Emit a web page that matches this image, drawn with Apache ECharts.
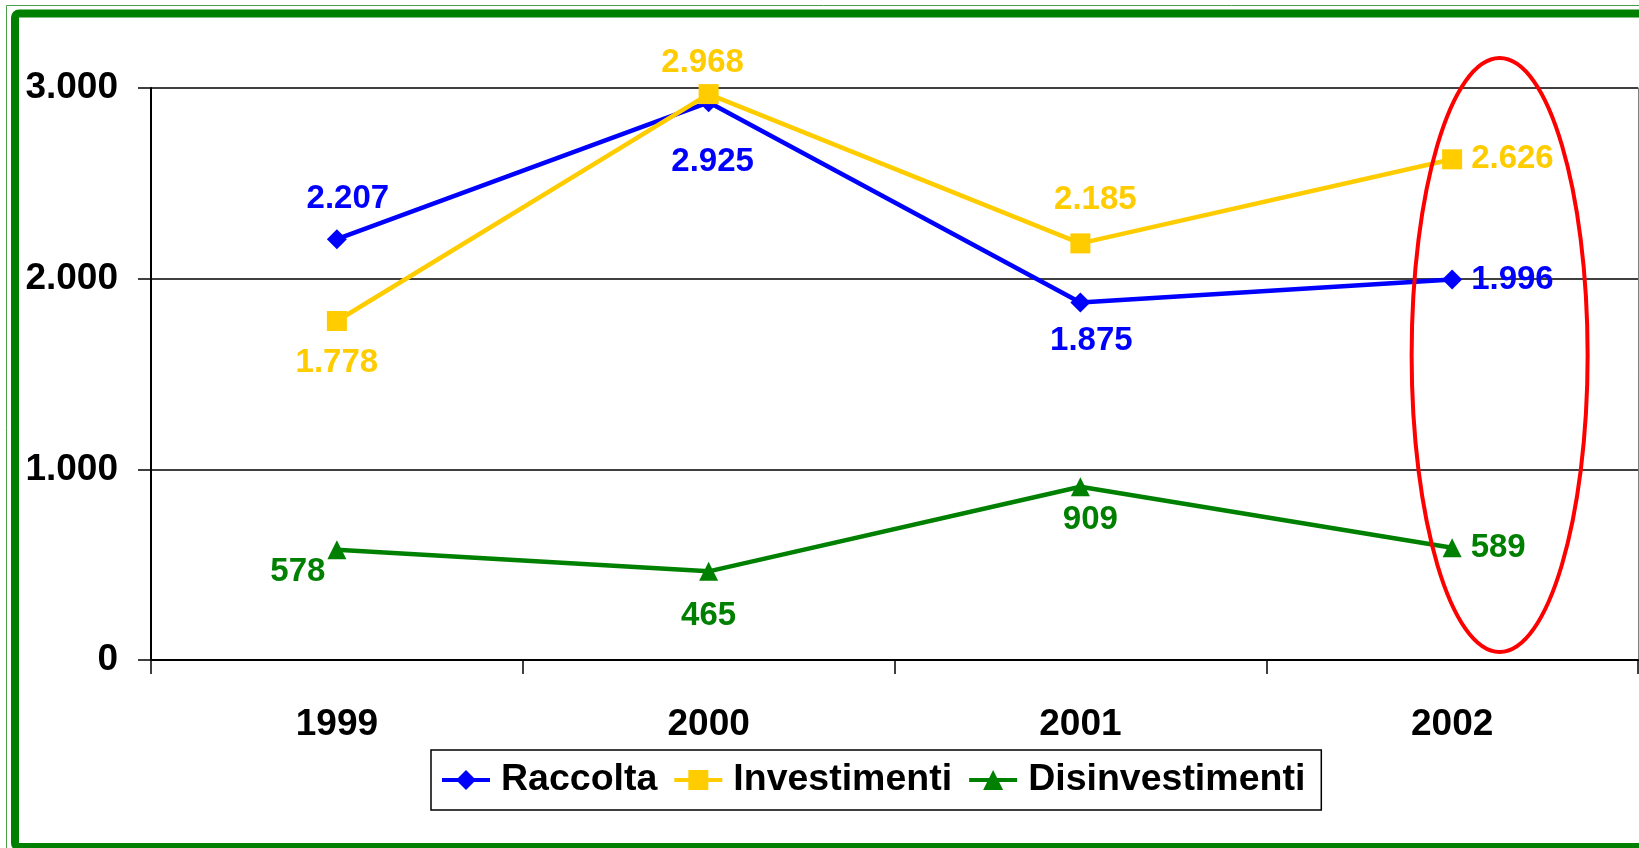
<!DOCTYPE html>
<html><head><meta charset="utf-8">
<script src="https://cdn.jsdelivr.net/npm/echarts@6/dist/echarts.min.js"></script>
<style>html,body{margin:0;padding:0;background:#fff;overflow:hidden;}#c{width:1639px;height:848px;}</style>
</head><body><div id="c"></div>
<script>
// ---- data ----
const categories = ['1999', '2000', '2001', '2002'];
const raccolta = [2207, 2925, 1875, 1996];
const investimenti = [1778, 2968, 2185, 2626];
const disinvestimenti = [578, 465, 909, 589];
const yMin = 0, yMax = 3000, yStep = 1000;
const seriesNames = ['Raccolta', 'Investimenti', 'Disinvestimenti'];

// ---- label placement (style, separate from data) ----
const labelPlace = {
  Raccolta:        [[11, -40], [4, 60], [11, 38], 'right'],
  Investimenti:    [[0, 42], [-6, -31], [15, -43], 'right'],
  Disinvestimenti: [[-39, 22], [0, 45], [10, 33], 'right']
};

const FONT = '"Liberation Sans", Arial, sans-serif';
const fmt = v => String(v).replace(/\B(?=(\d{3})+(?!\d))/g, '.');

function buildData(values, name, color) {
  return values.map((v, i) => {
    const p = labelPlace[name][i];
    const label = p === 'right'
      ? { position: 'right', distance: 9 }
      : { position: 'inside', offset: p };
    label.color = color;
    return { value: v, label };
  });
}

function makeSeries(name, values, color, symbol, size) {
  return {
    name, type: 'line', data: buildData(values, name, color),
    symbol, symbolSize: size, showSymbol: true,
    lineStyle: { color, width: 4.5 },
    itemStyle: { color },
    label: {
      show: true, formatter: p => fmt(p.value),
      fontFamily: FONT, fontWeight: 'bold', fontSize: 33, color,
      textBorderWidth: 0
    },
    emphasis: { disabled: true },
    animation: false
  };
}

const chart = echarts.init(document.getElementById('c'), null, { renderer: 'canvas' });
const option = {
  animation: false,
  backgroundColor: '#fff',
  grid: { left: 151, right: 1, top: 88, bottom: 188, containLabel: false },
  xAxis: {
    type: 'category', data: categories, boundaryGap: true,
    axisLine: { show: true, lineStyle: { color: '#000', width: 2 } },
    axisTick: { show: true, length: 14, alignWithLabel: false, lineStyle: { color: '#000', width: 1.5 } },
    axisLabel: { color: '#000', fontFamily: FONT, fontWeight: 'bold', fontSize: 37, margin: 46 },
    splitLine: { show: false }
  },
  yAxis: [{
    type: 'value', min: yMin, max: yMax, interval: yStep,
    axisLine: { show: true, lineStyle: { color: '#000', width: 2 } },
    axisTick: { show: true, length: 13, lineStyle: { color: '#000', width: 1.5 } },
    axisLabel: { color: '#000', fontFamily: FONT, fontWeight: 'bold', fontSize: 37, margin: 33, formatter: v => fmt(v) },
    splitLine: { show: true, lineStyle: { color: '#000', width: 1.5 } }
  }, {
    type: 'value', min: yMin, max: yMax, interval: yStep, position: 'right',
    axisLine: { show: true, lineStyle: { color: '#808080', width: 1 } },
    axisTick: { show: false }, axisLabel: { show: false }, splitLine: { show: false }
  }],
  legend: {
    data: seriesNames,
    left: 431, top: 750,
    orient: 'horizontal',
    backgroundColor: '#fff',
    borderColor: '#000', borderWidth: 1.5, borderRadius: 0,
    padding: [11, 16, 11, 9],
    itemWidth: 48, itemHeight: 25, itemGap: 15,
    lineStyle: { width: 4 },
    textStyle: { color: '#000', fontFamily: FONT, fontWeight: 'bold', fontSize: 37.5, padding: [0, 0, 0, 6] },
    selectedMode: false
  },
  series: [
    makeSeries(seriesNames[0], raccolta, '#0000FF', 'diamond', 20),
    makeSeries(seriesNames[1], investimenti, '#FFCC00', 'rect', 20),
    makeSeries(seriesNames[2], disinvestimenti, '#008000', 'triangle', 19)
  ]
};
chart.setOption(option);

// ---- decorations: frame and highlight ellipse (anchored to the 2002 category) ----
const pTop = chart.convertToPixel({ gridIndex: 0 }, ['2002', 3157]);
const pBot = chart.convertToPixel({ gridIndex: 0 }, ['2002', 42]);
const cx = pTop[0] + 47.5;
const cy = (pTop[1] + pBot[1]) / 2;
const ry = (pBot[1] - pTop[1]) / 2;

chart.setOption({
  graphic: [
    { type: 'rect', silent: true, z: 100,
      shape: { x: 6.5, y: 5.5, width: 1700, height: 900 },
      style: { fill: 'none', stroke: '#4a9e4a', lineWidth: 1 } },
    { type: 'rect', silent: true, z: 100,
      shape: { x: 15, y: 13.5, width: 1700, height: 833.5, r: 4 },
      style: { fill: 'none', stroke: '#008000', lineWidth: 8 } },
    { type: 'ellipse', silent: true, z: 100,
      shape: { cx: cx, cy: cy, rx: 88, ry: ry },
      style: { fill: 'none', stroke: '#FF0000', lineWidth: 4 } }
  ]
});
</script>
</body></html>
